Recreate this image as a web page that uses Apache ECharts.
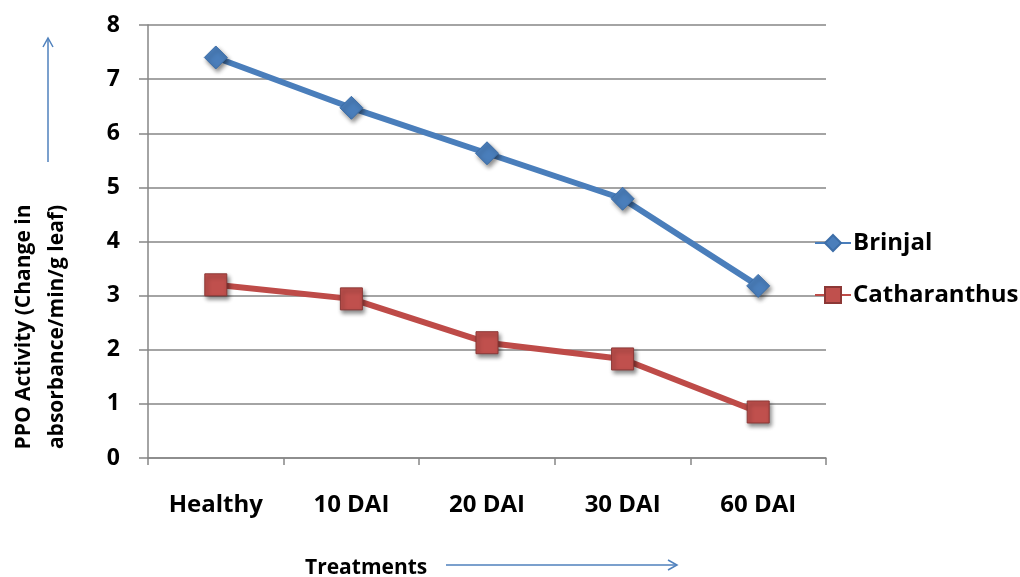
<!DOCTYPE html>
<html>
<head>
<meta charset="utf-8">
<script src="https://cdn.jsdelivr.net/npm/echarts@6/dist/echarts.min.js"></script>
<style>html,body{margin:0;padding:0;background:#fff;}#c{width:1020px;height:577px;}</style>
</head>
<body>
<div id="c"></div>
<script>
const categories = ['Healthy', '10 DAI', '20 DAI', '30 DAI', '60 DAI'];
const brinjal = [7.4, 6.47, 5.63, 4.79, 3.18];
const catharanthus = [3.2, 2.94, 2.13, 1.83, 0.85];
const yTicks = [0, 1, 2, 3, 4, 5, 6, 7, 8];

const FONT = 'Open Sans';
const chart = echarts.init(document.getElementById('c'));
const shadow = {shadowBlur: 4, shadowColor: 'rgba(0,0,0,0.45)', shadowOffsetX: 2, shadowOffsetY: 3};
chart.setOption({
  animation: false,
  backgroundColor: '#fff',
  grid: {left: 148, right: 194, top: 25, bottom: 119},
  xAxis: {
    type: 'category',
    data: categories,
    boundaryGap: true,
    axisLine: {lineStyle: {color: '#868686', width: 1.5}},
    axisTick: {show: true, length: 7, lineStyle: {color: '#868686', width: 1.5}},
    axisLabel: {margin: 35, color: '#000', fontFamily: FONT, fontWeight: 'bold', fontSize: 24},
    splitLine: {show: false}
  },
  yAxis: {
    type: 'value',
    min: yTicks[0], max: yTicks[yTicks.length - 1], interval: 1,
    axisLine: {show: true, lineStyle: {color: '#868686', width: 1.5}},
    axisTick: {show: true, length: 9, lineStyle: {color: '#868686', width: 1.5}},
    axisLabel: {margin: 28, color: '#000', fontFamily: FONT, fontWeight: 'bold', fontSize: 23},
    splitLine: {show: true, lineStyle: {color: '#868686', width: 1.5}}
  },
  legend: {
    orient: 'vertical',
    left: 809, top: 226,
    itemWidth: 36, itemHeight: 20, itemGap: 28,
    textStyle: {color: '#000', fontFamily: FONT, fontWeight: 'bold', fontSize: 24, padding: [0,0,0,-3]},
    data: ['Brinjal', 'Catharanthus']
  },
  series: [
    {
      name: 'Brinjal', type: 'line', data: brinjal,
      symbol: 'diamond', symbolSize: 23,
      lineStyle: {color: '#4a7ebb', width: 6},
      itemStyle: Object.assign({color: '#4a7ebb', borderColor: '#3d6ea8', borderWidth: 1}, shadow)
    },
    {
      name: 'Catharanthus', type: 'line', data: catharanthus,
      symbol: 'rect', symbolSize: 22,
      lineStyle: {color: '#be4b48', width: 6},
      itemStyle: Object.assign({color: '#c0504d', borderColor: '#8c3836', borderWidth: 1}, shadow)
    }
  ],
  graphic: [
    {type: 'text', x: 41, y: 327, rotation: Math.PI / 2,
     style: {text: 'PPO Activity (Change in\nabsorbance/min/g leaf)', fill: '#000', font: 'bold 21px "Open Sans"',
             align: 'center', verticalAlign: 'middle', lineHeight: 33}},
    {type: 'text', x: 305, y: 568,
     style: {text: 'Treatments', fill: '#000', font: 'bold 21px "Open Sans"', align: 'left', verticalAlign: 'middle'}},
    {type: 'line', shape: {x1: 48, y1: 162, x2: 48, y2: 39}, style: {stroke: '#4f81bd', lineWidth: 1.5}},
    {type: 'polyline', shape: {points: [[43, 47], [48, 38], [53, 47]]}, style: {stroke: '#4f81bd', lineWidth: 1.5, fill: null}},
    {type: 'line', shape: {x1: 446, y1: 565, x2: 676, y2: 565}, style: {stroke: '#4f81bd', lineWidth: 1.5}},
    {type: 'polyline', shape: {points: [[668, 560], [677, 565], [668, 570]]}, style: {stroke: '#4f81bd', lineWidth: 1.5, fill: null}}
  ]
});
</script>
</body>
</html>
